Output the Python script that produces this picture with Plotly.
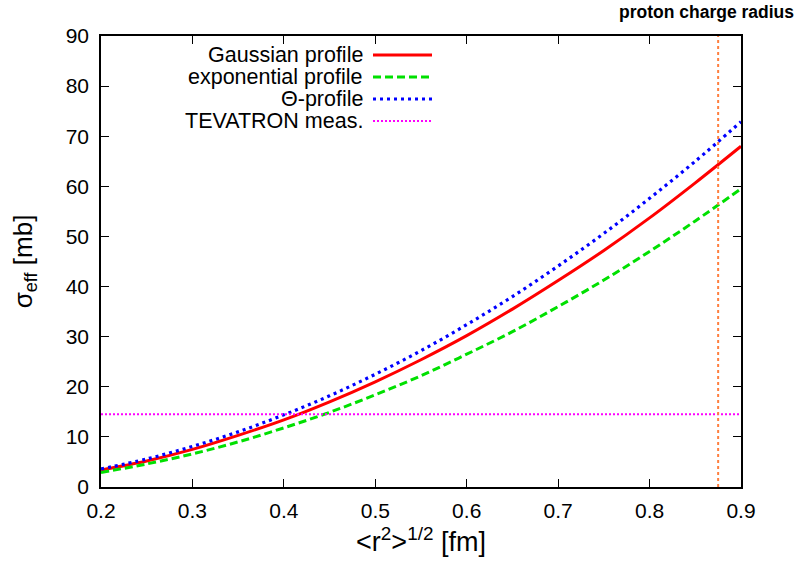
import plotly.graph_objects as go

r = [0.2, 0.25, 0.3, 0.35, 0.4, 0.45, 0.5, 0.55, 0.6, 0.65, 0.7, 0.75, 0.8, 0.85, 0.9]
gauss = [3.4, 5.2, 7.5, 10.3, 13.4, 17.0, 21.0, 25.4, 30.2, 35.5, 41.2, 47.2, 53.7, 60.7, 68.0]
expo = [2.9, 4.6, 6.6, 9.0, 11.8, 14.9, 18.4, 22.2, 26.5, 31.0, 36.0, 41.3, 47.0, 53.1, 59.5]
theta = [3.6, 5.6, 8.1, 11.0, 14.4, 18.2, 22.5, 27.2, 32.4, 38.0, 44.1, 50.6, 57.6, 65.0, 72.9]
tevatron = 14.5
proton_radius = 0.875

names = ["Gaussian profile", "exponential profile", "Θ-profile", "TEVATRON meas."]
colors = ["#ff0000", "#00e000", "#0000ff", "#ff00ff"]
dashes = ["solid", "8px,4px", "3px,4px", "2px,2px"]
widths = [3, 3, 3.2, 2]

fig = go.Figure()
for y, c, d, w, n in zip([gauss, expo, theta], colors, dashes, widths, names):
    fig.add_trace(go.Scatter(x=r, y=y, mode="lines", name=n,
                             line=dict(color=c, dash=d, width=w, shape="spline"), showlegend=False))
fig.add_trace(go.Scatter(x=[0.2, 0.9], y=[tevatron, tevatron], mode="lines", name=names[3],
                         line=dict(color=colors[3], dash=dashes[3], width=widths[3]), showlegend=False))
fig.add_trace(go.Scatter(x=[proton_radius, proton_radius], y=[0, 90], mode="lines",
                         line=dict(color="#ff7f3f", dash="3px,3px", width=2), showlegend=False))

# manual legend (gnuplot style: text right, key sample on the right)
W, H = 803, 561
ml, mr, mt, mb = 101, 62, 36, 74
pw, ph = W - ml - mr, H - mt - mb
def px(xp): return (xp - ml) / pw
def py(yp): return 1 - (yp - mt) / ph
rows = [55, 77, 99, 121]
for n, c, d, w, yy in zip(names, colors, dashes, widths, rows):
    fig.add_annotation(xref="paper", yref="paper", x=px(365), y=py(yy), text=n, showarrow=False,
                       xanchor="right", yanchor="middle", font=dict(size=21.5, color="black"))
    fig.add_shape(type="line", xref="paper", yref="paper", x0=px(373), x1=px(432), y0=py(yy), y1=py(yy),
                  line=dict(color=c, dash=d, width=w))

fig.add_annotation(xref="paper", yref="paper", x=px(796), y=py(12), text="<b>proton charge radius</b>",
                   showarrow=False, xanchor="right", yanchor="middle", font=dict(size=17.5, color="black"))

axis_common = dict(showline=True, linecolor="black", linewidth=1.5, mirror="ticks", ticks="inside",
                   ticklen=8, tickwidth=1.2, tickcolor="black", showgrid=False, zeroline=False,
                   automargin=False, tickfont=dict(size=21, color="black"))
fig.update_xaxes(range=[0.2, 0.9], dtick=0.1, tickformat=".1f", ticklabelstandoff=4,
                 title=dict(text="<r<sup>2</sup>><sup>1/2</sup> [fm]", font=dict(size=27, color="black"), standoff=11),
                 **axis_common)
fig.update_yaxes(range=[0, 90], dtick=10, ticklabelstandoff=6,
                 title=dict(text="σ<sub>eff</sub> [mb]", font=dict(size=26, color="black"), standoff=26),
                 **axis_common)
fig.update_layout(width=W, height=H, margin=dict(l=ml, r=mr, t=mt, b=mb),
                  plot_bgcolor="white", paper_bgcolor="white",
                  font=dict(family="Liberation Sans, Arial, sans-serif", color="black"))
fig.write_html("out.html", config={"displayModeBar": False},
               post_script="document.body.style.margin='0px';")
